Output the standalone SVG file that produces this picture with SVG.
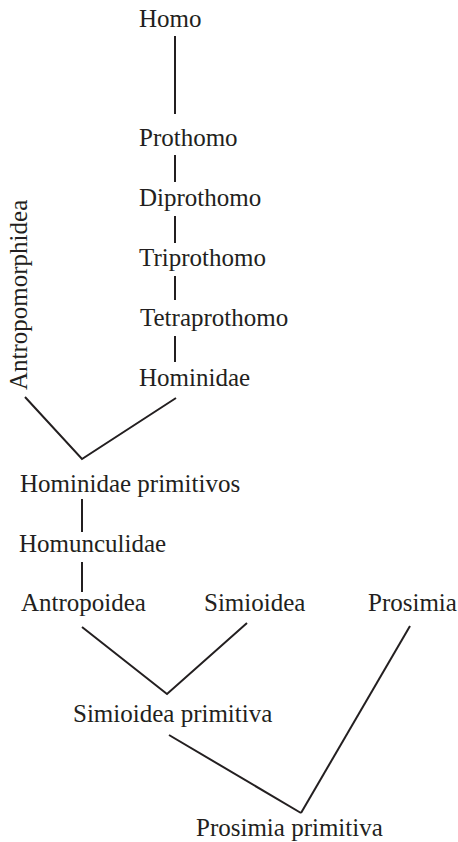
<svg xmlns="http://www.w3.org/2000/svg" width="458" height="842" viewBox="0 0 458 842">
<style>
text{font-family:"Liberation Serif","Times New Roman",serif;font-size:25px;fill:#231f20}
.c line,.c polyline{stroke:#231f20;stroke-width:2;fill:none}
</style>
<rect width="458" height="842" fill="#fff"/>
<g class="c" id="connectors">
<line x1="175" y1="36" x2="175" y2="114"/>
<line x1="175" y1="155" x2="175" y2="182"/>
<line x1="175" y1="216" x2="175" y2="243"/>
<line x1="175" y1="276" x2="175" y2="300"/>
<line x1="175" y1="336" x2="175" y2="362"/>
<polyline points="25,397 82,459 176,398"/>
<line x1="82" y1="499" x2="82" y2="532"/>
<line x1="82" y1="562" x2="82" y2="592"/>
<polyline points="82,627 167,694 247,623"/>
<line x1="169" y1="735" x2="301" y2="813"/>
<line x1="301" y1="813" x2="410" y2="626"/>
</g>
<g id="homo"><text x="139" y="27">Homo</text></g>
<g id="prothomo"><text x="139" y="146">Prothomo</text></g>
<g id="diprothomo"><text x="139" y="206">Diprothomo</text></g>
<g id="triprothomo"><text x="139" y="266">Triprothomo</text></g>
<g id="tetraprothomo"><text x="140" y="326">Tetraprothomo</text></g>
<g id="hominidae"><text x="139" y="386">Hominidae</text></g>
<g id="antropomorphidea"><text transform="translate(27,390) rotate(-90)">Antropomorphidea</text></g>
<g id="hominidae-primitivos"><text x="20" y="492">Hominidae primitivos</text></g>
<g id="homunculidae"><text x="19" y="552">Homunculidae</text></g>
<g id="antropoidea"><text x="21" y="611">Antropoidea</text></g>
<g id="simioidea"><text x="204" y="611">Simioidea</text></g>
<g id="prosimia"><text x="368" y="611">Prosimia</text></g>
<g id="simioidea-primitiva"><text x="73" y="722">Simioidea primitiva</text></g>
<g id="prosimia-primitiva"><text x="196" y="836">Prosimia primitiva</text></g>
</svg>
